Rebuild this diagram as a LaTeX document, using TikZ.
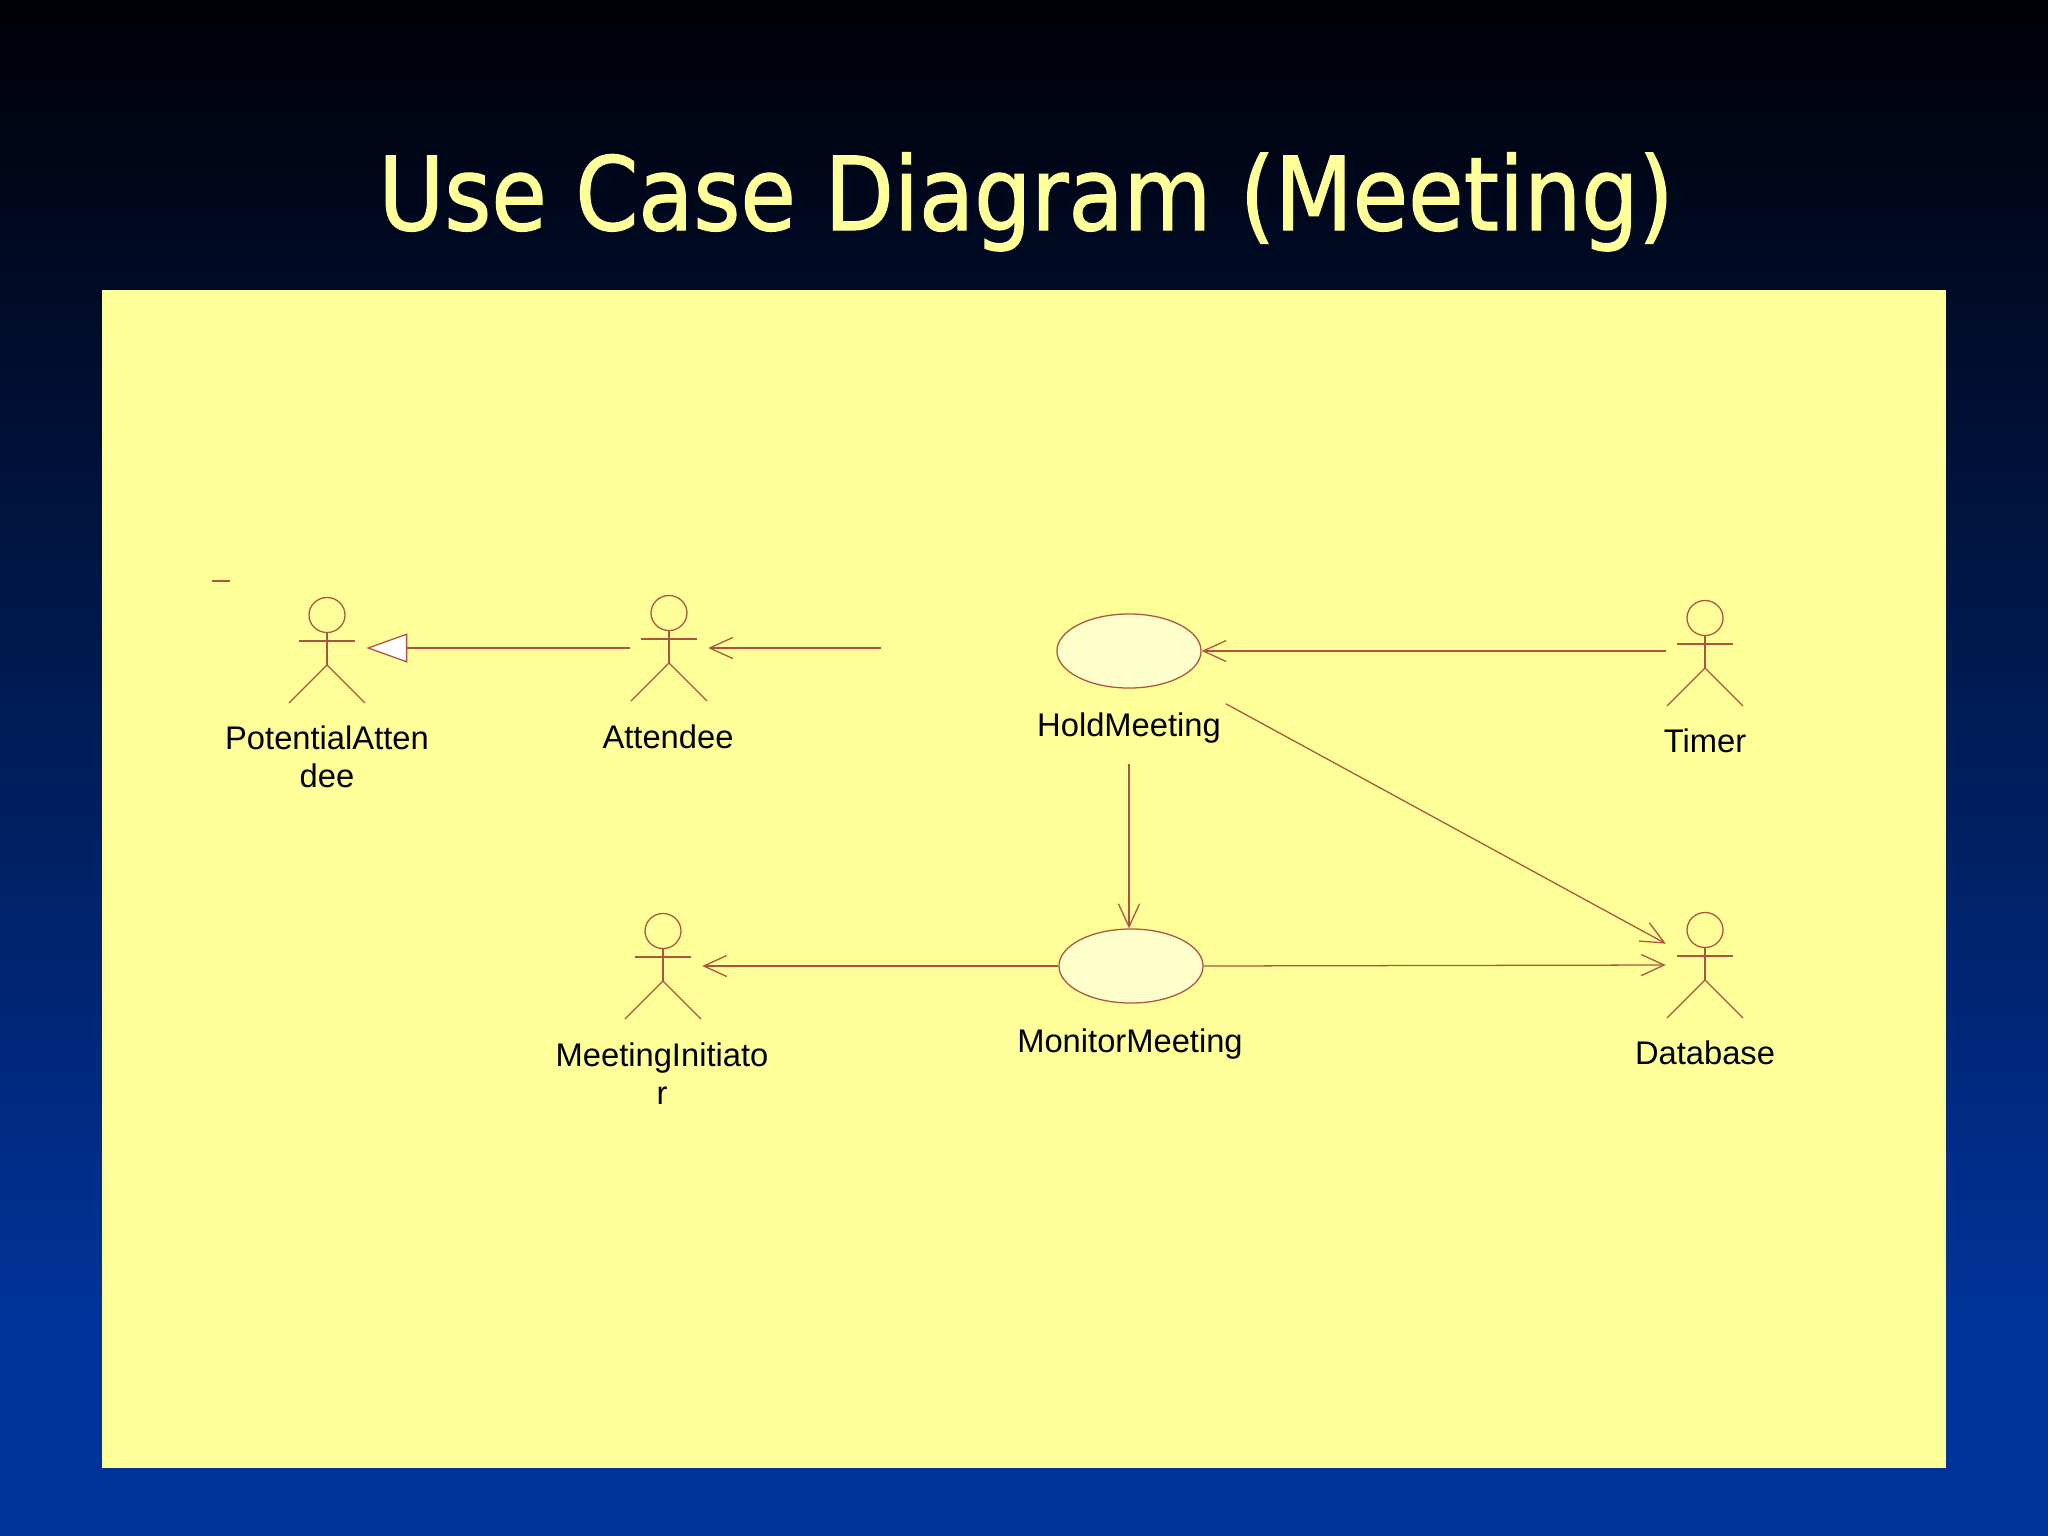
\documentclass[tikz,border=0pt]{standalone}
\usepackage{fontspec}
\setmainfont{Liberation Sans}
\newfontfamily\titlefont[FakeStretch=0.982,FakeBold=1.2]{DejaVu Sans Condensed}
\usetikzlibrary{arrows.meta}
\usetikzlibrary{shapes.geometric}
\definecolor{bgtop}{HTML}{000006}
\definecolor{bgbot}{HTML}{003399}
\definecolor{panelfill}{HTML}{FFFF99}
\definecolor{ucfill}{HTML}{FFFFCC}
\definecolor{umlline}{HTML}{AF5240}
\tikzset{
	uml/.style={draw=umlline,line width=0.36pt},
	usecase/.style={uml,ellipse,fill=ucfill,minimum width=1.44cm,minimum height=0.74cm,inner sep=0pt},
	actor/.style={minimum width=0.77cm,minimum height=1.06cm,inner sep=0pt},
	holdzone/.style={minimum width=1.92cm,minimum height=2.24cm,inner sep=0pt},
	caption/.style={anchor=base,align=center,font=\fontsize{9.3pt}{10.8pt}\selectfont},
	assoc/.style={uml,-{Straight Barb[length=0.23cm,width=0.21cm,line width=0.36pt]}},
	inherit/.style={uml,-{Triangle[length=0.41cm,width=0.29cm,fill=white,line width=0.36pt]}},
	actorfig/.pic={
		\draw[uml] (0,-35) ellipse [x radius=18,y radius=17.5];
		\draw[uml] (0,-17.5) -- (0,15);
		\draw[uml] (-28,-9) -- (28,-9);
		\draw[uml] (-38,53) -- (0,15) -- (38,53);
	}
}
\begin{document}
\begin{tikzpicture}[x=0.01cm,y=-0.01cm]
	\useasboundingbox (0,0) rectangle (2048,1536);
	\fill[top color=bgtop,bottom color=bgbot] (0,0) rectangle (2048,1320);
	\fill[bgbot] (0,1319) rectangle (2048,1536);
	\fill[panelfill] (102,290) rectangle (1946,1468);
	\node[anchor=base,text=panelfill,font=\titlefont\fontsize{29pt}{34pt}\selectfont] (title) at (1026,230) {Use Case Diagram (Meeting)};
	% actors
	\node[actor] (potential) at (327,650) {};
	\node[actor] (attendee) at (669,648) {};
	\node[actor] (timer) at (1705,653) {};
	\node[actor] (initiator) at (663,966) {};
	\node[actor] (database) at (1705,965) {};
	\foreach \who in {potential,attendee,timer,initiator,database}
		\pic at (\who) {actorfig};
	% use cases
	\node[usecase] (hold) at (1129,651) {};
	\node[usecase] (monitor) at (1131,966) {};
	\node[holdzone] (holdarea) at (1129,651) {};
	% labels
	\node[caption] (potentiallabel) at (327,787) {PotentialAtten\\dee};
	\node[caption] (attendeelabel) at (668,748) {Attendee};
	\node[caption] (holdlabel) at (1129,736) {HoldMeeting};
	\node[caption] (timerlabel) at (1705,752) {Timer};
	\node[caption] (initiatorlabel) at (662,1104) {MeetingInitiato\\r};
	\node[caption] (monitorlabel) at (1130,1052) {MonitorMeeting};
	\node[caption] (databaselabel) at (1705,1064) {Database};
	% connectors
	\coordinate (stub) at (881,648);
	\coordinate (dashl) at (212,581);
	\coordinate (dashr) at (230,581);
	\draw[uml] (dashl) -- (dashr);
	\draw[inherit] (attendee.west) -- (attendee.west -| potential.east);
	\draw[assoc] (stub) -- (attendee.east);
	\draw[assoc] (timer.west |- hold.east) -- (hold.east);
	\draw[assoc] (holdarea.south) -- (holdarea.south |- monitor.north);
	\draw[assoc] (holdarea) -- (database);
	\draw[assoc] (monitor.east) -- (database.west);
	\draw[assoc] (monitor.west) -- (initiator.east);
\end{tikzpicture}
\end{document}
